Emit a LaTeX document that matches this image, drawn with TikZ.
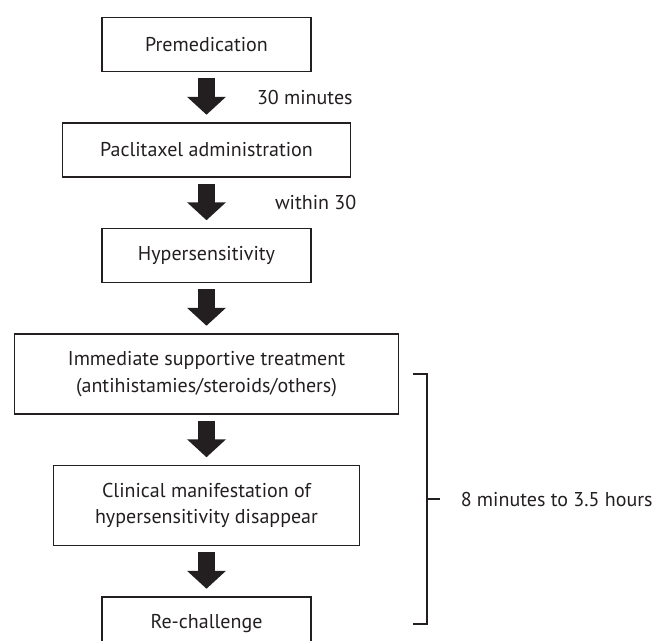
\documentclass[tikz,border=0pt]{standalone}
\usepackage{fontspec}
\setmainfont{PT Sans}
\usetikzlibrary{arrows.meta, positioning, calc}
\definecolor{ink}{HTML}{231F20}

\begin{document}
\begin{tikzpicture}[
    x=1pt, y=-1pt,
    node distance=50pt,
    every node/.style={text=ink, font=\fontsize{20}{26.5}\selectfont, align=center},
    box/.style={draw=ink, line width=1.5pt, inner sep=0pt, minimum height=54pt},
    twoline/.style={box, minimum height=80pt},
    blockarrow/.style={draw=ink, line width=17pt, -{Triangle[width=38pt, length=18pt]}, shorten <=6pt, shorten >=7.5pt}, % fat arrows
    note/.style={draw=none, inner sep=0pt},
    bracket/.style={draw=ink, line width=1.5pt}
]
\clip (0,0) rectangle (660,640);

\node[box, minimum width=209pt] (premed) at (206.5,44.5) {Premedication};
\node[box, minimum width=288pt, below=of premed] (pacli) {Paclitaxel administration};
\node[box, minimum width=209pt, below=of pacli] (hyper) {Hypersensitivity};
\node[twoline, minimum width=384pt, below=of hyper] (treat) {Immediate supportive treatment\\(antihistamies/steroids/others)};
\node[twoline, minimum width=306pt, below=of treat] (clinic) {Clinical manifestation of\\hypersensitivity disappear};
\node[box, minimum width=209pt, below=of clinic] (rechal) {Re-challenge};

\draw[blockarrow] (premed) -- (pacli) node[note, midway, right=42pt] (t30) {30 minutes};
\draw[blockarrow] (pacli) -- (hyper) node[note, midway, right=60pt] (tin) {within 30};
\draw[blockarrow] (hyper) -- (treat);
\draw[blockarrow] (treat) -- (clinic);
\draw[blockarrow] (clinic) -- (rechal);

% time span bracket
\coordinate (bx) at (427,0);
\coordinate (btop) at (bx |- treat);
\coordinate (bbot) at (bx |- rechal);
\coordinate (bmid) at ($(btop)!0.5!(bbot)$);
\draw[bracket] ($(btop)+(-14,0)$) -- (btop) -- (bbot) -- ++(-14,0);
\draw[bracket] (bmid) -- ++(13,0) node[note, right=20pt] (span) {8 minutes to 3.5 hours};

\end{tikzpicture}
\end{document}
